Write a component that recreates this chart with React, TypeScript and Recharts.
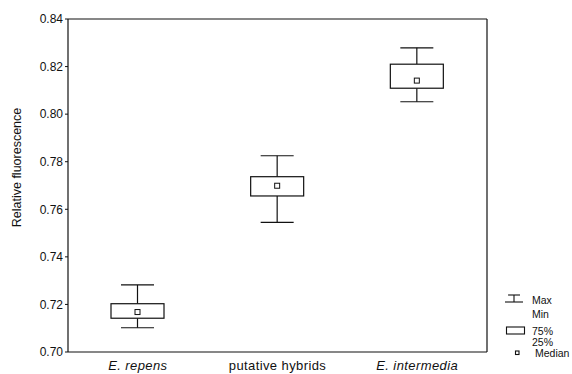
import React from 'react';
import { ComposedChart, Bar, XAxis, YAxis } from 'recharts';

// values
const groups = ['E. repens', 'putative hybrids', 'E. intermedia'];
const italicGroups = ['E. repens', 'E. intermedia'];
const minValues = [0.7102, 0.7545, 0.8052];
const q1Values = [0.7142, 0.7656, 0.8109];
const medianValues = [0.7168, 0.7699, 0.8141];
const q3Values = [0.7203, 0.7737, 0.821];
const maxValues = [0.7282, 0.7825, 0.8279];
const yTicks = [0.7, 0.72, 0.74, 0.76, 0.78, 0.8, 0.82, 0.84];

const data = groups.map((name, i) => ({
    name,
    min: minValues[i],
    q1: q1Values[i],
    median: medianValues[i],
    q3: q3Values[i],
    max: maxValues[i],
}));

const INK = '#111';
const FONT = 'Arial, "Liberation Sans", sans-serif';

// draws whiskers, box and median from the range bar that spans min..max
const BoxShape = (props: any) => {
    const { x, y, width, height, payload } = props;
    const top = Math.min(y, y + height);
    const bottom = Math.max(y, y + height);
    const toPx = (v: number) => top + ((payload.max - v) / (payload.max - payload.min)) * (bottom - top);
    const cx = x + width / 2;
    const capHalf = 16.5;
    const yQ3 = toPx(payload.q3);
    const yQ1 = toPx(payload.q1);
    const yMed = toPx(payload.median);
    return (
        <g stroke={INK} strokeWidth={1.2} fill="none">
            <line x1={cx} y1={top} x2={cx} y2={yQ3} />
            <line x1={cx} y1={yQ1} x2={cx} y2={bottom} />
            <line x1={cx - capHalf} y1={top} x2={cx + capHalf} y2={top} />
            <line x1={cx - capHalf} y1={bottom} x2={cx + capHalf} y2={bottom} />
            <rect x={x} y={yQ3} width={width} height={yQ1 - yQ3} fill="#fff" />
            <rect x={cx - 2.5} y={yMed - 2.5} width={5} height={5} fill="#fff" strokeWidth={1} />
        </g>
    );
};

const GroupTick = (props: any) => {
    const { x, y, payload } = props;
    const italic = italicGroups.includes(payload.value);
    return (
        <text
            x={x}
            y={y}
            dy={9.5}
            textAnchor="middle"
            fontFamily={FONT}
            fontSize={13}
            letterSpacing={0.4}
            fontStyle={italic ? 'italic' : 'normal'}
            fill={INK}
        >
            {payload.value}
        </text>
    );
};

const AxisTitle = (props: any) => {
    const { viewBox } = props;
    const cy = viewBox.y + viewBox.height / 2 - 18;
    return (
        <text
            x={16.5}
            y={cy}
            transform={`rotate(-90, 16.5, ${cy})`}
            textAnchor="middle"
            dominantBaseline="central"
            fontFamily={FONT}
            fontSize={12.5}
            fill={INK}
        >
            Relative fluorescence
        </text>
    );
};

const legendLabels = ['Max', 'Min', '75%', '25%', 'Median'];

// legend sits in the bottom-right corner, outside the plot frame
const LegendBox = () => (
    <svg width={78} height={70} style={{ position: 'absolute', left: 494, top: 289 }}>
        <g stroke={INK} strokeWidth={1.1} fill="none">
            <line x1={14} y1={6} x2={26} y2={6} />
            <line x1={20} y1={6} x2={20} y2={13} />
            <line x1={11} y1={13} x2={29} y2={13} />
            <rect x={12.5} y={38} width={18} height={7} />
            <rect x={21.5} y={62} width={3.5} height={3.5} />
        </g>
        <g fontFamily={FONT} fontSize={10.5} fill={INK}>
            <text x={38} y={15}>{legendLabels[0]}</text>
            <text x={38} y={29}>{legendLabels[1]}</text>
            <text x={38} y={46}>{legendLabels[2]}</text>
            <text x={38} y={57}>{legendLabels[3]}</text>
            <text x={41} y={68}>{legendLabels[4]}</text>
        </g>
    </svg>
);

export default function App() {
    return (
        <div style={{ position: 'absolute', left: 0, top: 0, width: 572, height: 374, background: '#fff' }}>
            <ComposedChart width={572} height={374} data={data} margin={{ top: 18, right: 84, bottom: 0, left: 0 }}>
                <XAxis
                    dataKey="name"
                    height={22}
                    tickLine={false}
                    tick={<GroupTick />}
                    axisLine={{ stroke: INK, strokeWidth: 1.2 }}
                    interval={0}
                />
                <XAxis xAxisId="top" dataKey="name" orientation="top" height={1} tick={false} tickLine={false} axisLine={{ stroke: INK, strokeWidth: 1.2 }} />
                <YAxis
                    width={68}
                    domain={[0.7, 0.84]}
                    ticks={yTicks}
                    tickFormatter={(v: number) => v.toFixed(2)}
                    tickSize={3}
                    tickMargin={2}
                    tick={{ fontFamily: FONT, fontSize: 12, fill: INK }}
                    tickLine={{ stroke: INK }}
                    axisLine={{ stroke: INK, strokeWidth: 1.2 }}
                    label={<AxisTitle />}
                    allowDataOverflow
                />
                <YAxis yAxisId="right" orientation="right" width={1} domain={[0.7, 0.84]} tick={false} tickLine={false} axisLine={{ stroke: INK, strokeWidth: 1.2 }} />
                <Bar
                    dataKey={(d: any) => [d.min, d.max]}
                    barSize={53}
                    shape={<BoxShape />}
                    isAnimationActive={false}
                />
            </ComposedChart>
            <LegendBox />
        </div>
    );
}
